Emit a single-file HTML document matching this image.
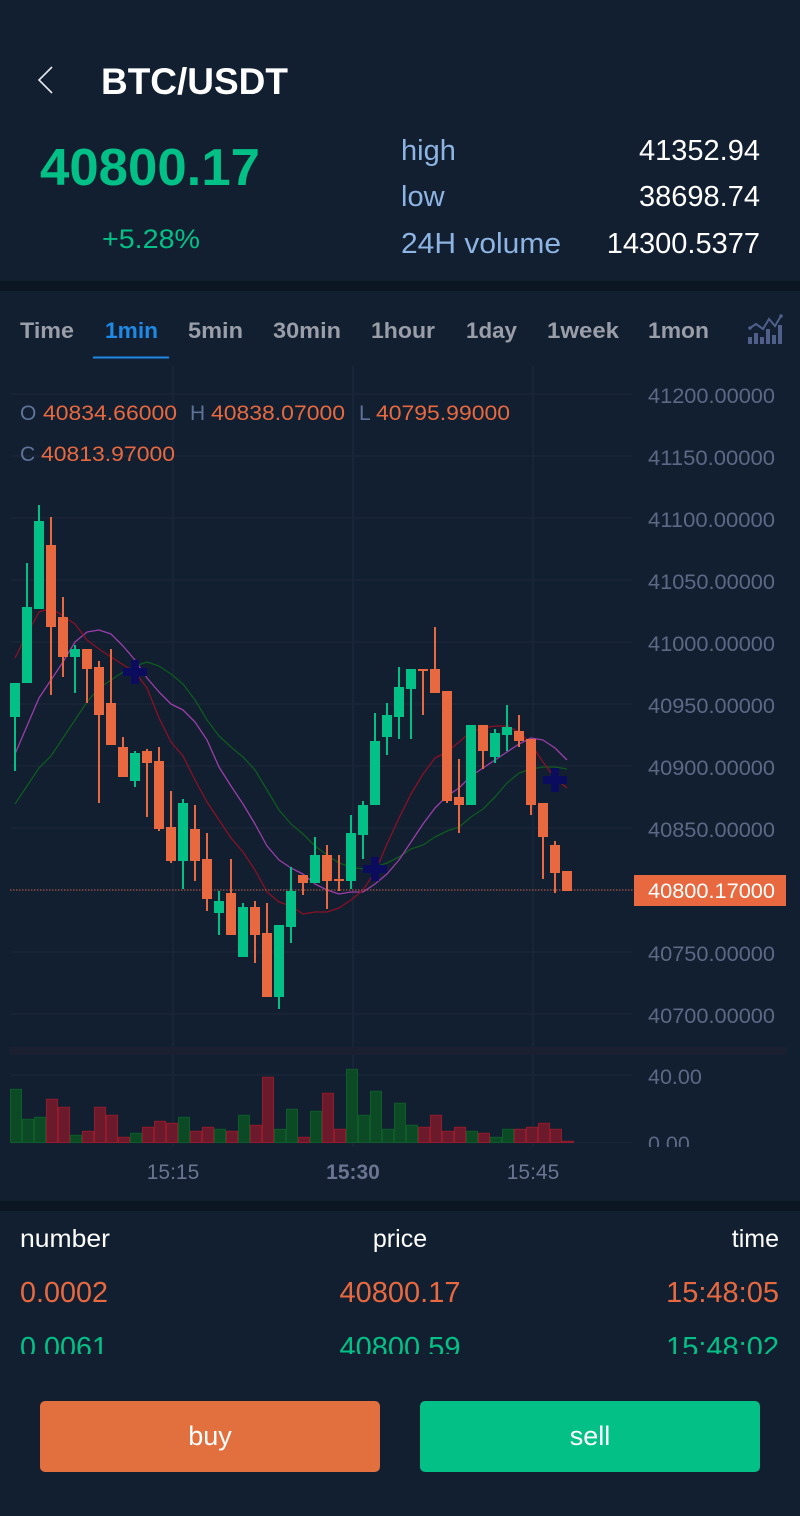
<!DOCTYPE html>
<html><head><meta charset="utf-8"><style>
html,body{margin:0;padding:0;background:#111f30;}
svg{display:block;}
text{font-family:"Liberation Sans",Arial,sans-serif;}
</style></head><body>
<svg width="800" height="1516" viewBox="0 0 800 1516" xmlns="http://www.w3.org/2000/svg">
<defs>
<clipPath id="cv"><rect x="0" y="0" width="800" height="1147"/></clipPath>
<clipPath id="cl"><rect x="0" y="1212" width="800" height="142"/></clipPath>
</defs>
<rect x="0" y="0" width="800" height="1516" fill="#111f30"/>
<!-- header -->
<polyline points="52,67 39,80 52,93" fill="none" stroke="#e6e8ee" stroke-width="1.6"/>
<text x="101" y="94" font-size="37" font-weight="bold" fill="#ffffff" textLength="187" lengthAdjust="spacingAndGlyphs">BTC/USDT</text>
<text x="40" y="185" font-size="52" font-weight="bold" fill="#03c087" textLength="220" lengthAdjust="spacingAndGlyphs">40800.17</text>
<text x="102" y="248" font-size="27" fill="#03c087" textLength="98" lengthAdjust="spacingAndGlyphs">+5.28%</text>
<text x="401" y="160" font-size="29" fill="#8db4e2">high</text>
<text x="401" y="206" font-size="29" fill="#8db4e2">low</text>
<text x="401" y="253" font-size="29" fill="#8db4e2" textLength="160" lengthAdjust="spacingAndGlyphs">24H volume</text>
<text x="760" y="160" font-size="29" fill="#ffffff" text-anchor="end">41352.94</text>
<text x="760" y="206" font-size="29" fill="#ffffff" text-anchor="end">38698.74</text>
<text x="760" y="253" font-size="29" fill="#ffffff" text-anchor="end">14300.5377</text>
<rect x="0" y="281" width="800" height="10" fill="#0c1623"/>
<!-- tabs -->
<g font-size="22" font-weight="bold" fill="#9a9ea8">
<text x="20" y="338" textLength="54" lengthAdjust="spacingAndGlyphs">Time</text>
<text x="105" y="338" fill="#1e8ae6" textLength="53" lengthAdjust="spacingAndGlyphs">1min</text>
<text x="188" y="338" textLength="55" lengthAdjust="spacingAndGlyphs">5min</text>
<text x="273" y="338" textLength="68" lengthAdjust="spacingAndGlyphs">30min</text>
<text x="371" y="338" textLength="64" lengthAdjust="spacingAndGlyphs">1hour</text>
<text x="466" y="338" textLength="51" lengthAdjust="spacingAndGlyphs">1day</text>
<text x="547" y="338" textLength="72" lengthAdjust="spacingAndGlyphs">1week</text>
<text x="648" y="338" textLength="61" lengthAdjust="spacingAndGlyphs">1mon</text>
</g>
<rect x="93" y="356.5" width="76" height="2" fill="#1e8ae6"/>
<g fill="#4f5f8a">
<rect x="748" y="337" width="4" height="7"/><rect x="754" y="333" width="4" height="11"/><rect x="760" y="337" width="4" height="7"/><rect x="766" y="329" width="4" height="15"/><rect x="772" y="335" width="4" height="9"/><rect x="778" y="325" width="4" height="19"/>
</g>
<polyline points="750,328 756,324 763,329 769,319 775,326 781,316" fill="none" stroke="#4f5f8a" stroke-width="2"/>
<circle cx="750" cy="328" r="1.8" fill="#4f5f8a"/><circle cx="781" cy="316" r="1.8" fill="#4f5f8a"/>

<!-- chart -->
<g clip-path="url(#cv)">
<g stroke="#1b2539" stroke-width="1.6">
<line x1="11" y1="394" x2="632" y2="394"/><line x1="11" y1="456" x2="632" y2="456"/><line x1="11" y1="518" x2="632" y2="518"/><line x1="11" y1="580" x2="632" y2="580"/><line x1="11" y1="642" x2="632" y2="642"/><line x1="11" y1="704" x2="632" y2="704"/><line x1="11" y1="766" x2="632" y2="766"/><line x1="11" y1="828" x2="632" y2="828"/><line x1="11" y1="952" x2="632" y2="952"/><line x1="11" y1="1014" x2="632" y2="1014"/>
<line x1="11" y1="1075" x2="632" y2="1075"/><line x1="11" y1="1142.5" x2="632" y2="1142.5"/>
<line x1="173" y1="366" x2="173" y2="1147"/><line x1="353" y1="366" x2="353" y2="1147"/><line x1="533" y1="366" x2="533" y2="1147"/>
</g>
<rect x="10" y="1047" width="776" height="8" fill="#1b2030"/>
<!-- OHLC -->
<g font-size="21">
<text x="20" y="420" fill="#5f7398">O</text>
<text x="43" y="420" fill="#e8693f" textLength="134" lengthAdjust="spacingAndGlyphs">40834.66000</text>
<text x="190" y="420" fill="#5f7398">H</text>
<text x="211" y="420" fill="#e8693f" textLength="134" lengthAdjust="spacingAndGlyphs">40838.07000</text>
<text x="359" y="420" fill="#5f7398">L</text>
<text x="376" y="420" fill="#e8693f" textLength="134" lengthAdjust="spacingAndGlyphs">40795.99000</text>
<text x="20" y="461" fill="#5f7398">C</text>
<text x="41" y="461" fill="#e8693f" textLength="134" lengthAdjust="spacingAndGlyphs">40813.97000</text>
</g>
<!-- y labels -->
<g font-size="21.5" fill="#5d6885">
<text x="648" y="403" textLength="127" lengthAdjust="spacingAndGlyphs">41200.00000</text>
<text x="648" y="465" textLength="127" lengthAdjust="spacingAndGlyphs">41150.00000</text>
<text x="648" y="527" textLength="127" lengthAdjust="spacingAndGlyphs">41100.00000</text>
<text x="648" y="589" textLength="127" lengthAdjust="spacingAndGlyphs">41050.00000</text>
<text x="648" y="651" textLength="127" lengthAdjust="spacingAndGlyphs">41000.00000</text>
<text x="648" y="713" textLength="127" lengthAdjust="spacingAndGlyphs">40950.00000</text>
<text x="648" y="775" textLength="127" lengthAdjust="spacingAndGlyphs">40900.00000</text>
<text x="648" y="837" textLength="127" lengthAdjust="spacingAndGlyphs">40850.00000</text>
<text x="648" y="961" textLength="127" lengthAdjust="spacingAndGlyphs">40750.00000</text>
<text x="648" y="1023" textLength="127" lengthAdjust="spacingAndGlyphs">40700.00000</text>
<text x="648" y="1084">40.00</text>
<text x="648" y="1151">0.00</text>
</g>
<!-- MA lines -->
<g fill="none" stroke-width="1.3" stroke-linejoin="round">
<polyline stroke="#0f5a1f" points="15,804 27,786 39,768 51,756 63,738 75,720 87,702 99,688 111,680 123,672 135,666 147,662 159,666 171,674 183,684 195,700 207,720 219,736 231,747 243,757 255,770 267,790 279,810 291,824 303,834 315,846 327,855 339,863 351,867 363,869 375,867 387,863 399,857 411,849 423,845 435,837 447,831 459,827 471,817 483,809 495,797 507,783 519,773 531,769 543,767 555,767 567,769"/>
<polyline stroke="#9c3ea8" points="15,754 27,726 39,698 51,680 63,662 75,642 87,632 99,630 111,634 123,646 135,660 147,678 159,692 171,704 183,710 195,722 207,740 219,767 231,786 243,804 255,824 267,846 279,860 291,868 303,874 315,884 327,890 339,894 351,892 363,892 375,884 387,874 399,860 411,842 423,824 435,808 447,796 459,788 471,776 483,768 495,760 507,752 519,744 531,738 543,740 555,748 567,760"/>
<polyline stroke="#8b1026" points="15,658 27,634 39,612 45,610 57,612 75,624 87,640 99,649 111,657 125,666 135,672 147,688 159,718 171,742 183,756 195,780 207,802 219,820 231,838 243,852 255,870 267,892 279,902 291,906 303,914 315,912 327,912 339,908 351,900 363,890 375,872 387,844 399,818 411,794 423,774 435,758 447,752 459,742 471,732 483,728 495,726 507,726 519,732 531,744 543,762 555,778 567,788"/>
</g>
<!-- price line -->
<line x1="10" y1="890" x2="634" y2="890" stroke="#c0604a" stroke-opacity="0.7" stroke-width="1.5" stroke-dasharray="1.5,1.5"/>
<!-- wicks -->
<path stroke="#03c087" stroke-width="2" fill="none" d="M15 683V771M27 563V683M39 505V609M75 645V693M135 751V787M183 799V889M219 891V935M243 903V957M279 925V1009M291 867V943M315 837V883M351 815V889M363 801V859M375 713V805M387 703V755M399 667V739M411 669V739M471 725V805M495 729V763M507 705V751"/>
<path stroke="#e8693f" stroke-width="2" fill="none" d="M51 517V695M63 597V677M87 649V703M99 661V803M111 649V745M123 737V777M147 749V817M159 747V831M171 791V863M195 805V881M207 833V911M231 859V935M255 901V963M267 903V997M303 875V895M327 845V909M339 855V891M423 669V715M435 627V693M447 691V803M459 759V833M483 725V769M519 715V747M531 739V815M543 803V879M555 841V893M567 871V891"/>
<g fill="#03c087">
<rect x="10" y="683" width="10" height="34"/><rect x="22" y="607" width="10" height="76"/><rect x="34" y="521" width="10" height="88"/><rect x="70" y="649" width="10" height="8"/><rect x="130" y="753" width="10" height="28"/><rect x="178" y="803" width="10" height="58"/><rect x="214" y="901" width="10" height="12"/><rect x="238" y="907" width="10" height="50"/><rect x="274" y="925" width="10" height="72"/><rect x="286" y="891" width="10" height="36"/><rect x="310" y="855" width="10" height="28"/><rect x="346" y="833" width="10" height="48"/><rect x="358" y="805" width="10" height="30"/><rect x="370" y="741" width="10" height="64"/><rect x="382" y="715" width="10" height="22"/><rect x="394" y="687" width="10" height="30"/><rect x="406" y="669" width="10" height="20"/><rect x="466" y="725" width="10" height="80"/><rect x="490" y="733" width="10" height="24"/><rect x="502" y="727" width="10" height="8"/>
</g>
<g fill="#e8693f">
<rect x="46" y="545" width="10" height="82"/><rect x="58" y="617" width="10" height="40"/><rect x="82" y="649" width="10" height="20"/><rect x="94" y="667" width="10" height="48"/><rect x="106" y="703" width="10" height="42"/><rect x="118" y="747" width="10" height="30"/><rect x="142" y="751" width="10" height="12"/><rect x="154" y="761" width="10" height="68"/><rect x="166" y="827" width="10" height="34"/><rect x="190" y="829" width="10" height="32"/><rect x="202" y="859" width="10" height="40"/><rect x="226" y="893" width="10" height="42"/><rect x="250" y="907" width="10" height="28"/><rect x="262" y="933" width="10" height="64"/><rect x="298" y="875" width="10" height="8"/><rect x="322" y="855" width="10" height="26"/><rect x="334" y="879" width="10" height="2"/><rect x="418" y="669" width="10" height="2"/><rect x="430" y="669" width="10" height="24"/><rect x="442" y="691" width="10" height="110"/><rect x="454" y="797" width="10" height="8"/><rect x="478" y="725" width="10" height="26"/><rect x="514" y="731" width="10" height="10"/><rect x="526" y="739" width="10" height="66"/><rect x="538" y="803" width="10" height="34"/><rect x="550" y="845" width="10" height="28"/><rect x="562" y="871" width="10" height="20"/>
</g>
<!-- crosses -->
<g fill="#0b0c5e">
<rect x="123" y="668" width="24" height="8"/><rect x="131" y="660" width="8" height="24"/>
<rect x="363" y="865" width="24" height="8"/><rect x="371" y="857" width="8" height="24"/>
<rect x="543" y="776" width="24" height="8"/><rect x="551" y="768" width="8" height="24"/>
</g>
<!-- price tag -->
<line x1="634" y1="890" x2="640" y2="890" stroke="#e8c0b0" stroke-width="1.2"/>
<rect x="634" y="875" width="152" height="31" fill="#e8693f"/>
<text x="648" y="898" font-size="21.5" fill="#ffffff" textLength="127" lengthAdjust="spacingAndGlyphs">40800.17000</text>
<!-- volume -->
<g stroke-width="1">
<g fill="#0c4a25" stroke="#0f5c2a">
<rect x="10.5" y="1089.3" width="11" height="53.2"/><rect x="22.5" y="1119.3" width="11" height="23.2"/><rect x="34.5" y="1117.3" width="11" height="25.2"/><rect x="70.5" y="1135.3" width="11" height="7.2"/><rect x="130.5" y="1133.3" width="11" height="9.2"/><rect x="178.5" y="1117.3" width="11" height="25.2"/><rect x="214.5" y="1129.3" width="11" height="13.2"/><rect x="238.5" y="1115.3" width="11" height="27.2"/><rect x="274.5" y="1129.3" width="11" height="13.2"/><rect x="286.5" y="1109.3" width="11" height="33.2"/><rect x="310.5" y="1111.3" width="11" height="31.2"/><rect x="346.5" y="1069.3" width="11" height="73.2"/><rect x="358.5" y="1115.3" width="11" height="27.2"/><rect x="370.5" y="1091.3" width="11" height="51.2"/><rect x="382.5" y="1129.3" width="11" height="13.2"/><rect x="394.5" y="1103.3" width="11" height="39.2"/><rect x="406.5" y="1125.3" width="11" height="17.2"/><rect x="466.5" y="1131.3" width="11" height="11.2"/><rect x="490.5" y="1137.3" width="11" height="5.2"/><rect x="502.5" y="1129.3" width="11" height="13.2"/>
</g>
<g fill="#6a1a2a" stroke="#931b2c">
<rect x="46.5" y="1099.3" width="11" height="43.2"/><rect x="58.5" y="1107.3" width="11" height="35.2"/><rect x="82.5" y="1131.3" width="11" height="11.2"/><rect x="94.5" y="1107.3" width="11" height="35.2"/><rect x="106.5" y="1115.3" width="11" height="27.2"/><rect x="118.5" y="1137.3" width="11" height="5.2"/><rect x="142.5" y="1127.3" width="11" height="15.2"/><rect x="154.5" y="1121.3" width="11" height="21.2"/><rect x="166.5" y="1123.3" width="11" height="19.2"/><rect x="190.5" y="1131.3" width="11" height="11.2"/><rect x="202.5" y="1127.3" width="11" height="15.2"/><rect x="226.5" y="1131.3" width="11" height="11.2"/><rect x="250.5" y="1125.3" width="11" height="17.2"/><rect x="262.5" y="1077.3" width="11" height="65.2"/><rect x="298.5" y="1137.3" width="11" height="5.2"/><rect x="322.5" y="1093.3" width="11" height="49.2"/><rect x="334.5" y="1129.3" width="11" height="13.2"/><rect x="418.5" y="1127.3" width="11" height="15.2"/><rect x="430.5" y="1115.3" width="11" height="27.2"/><rect x="442.5" y="1131.3" width="11" height="11.2"/><rect x="454.5" y="1127.3" width="11" height="15.2"/><rect x="478.5" y="1133.3" width="11" height="9.2"/><rect x="514.5" y="1129.3" width="11" height="13.2"/><rect x="526.5" y="1127.3" width="11" height="15.2"/><rect x="538.5" y="1123.3" width="11" height="19.2"/><rect x="550.5" y="1129.3" width="11" height="13.2"/><rect x="562.5" y="1141.3" width="11" height="1.2"/>
</g>
</g>
</g>
<!-- x axis labels -->
<g font-size="21" fill="#6b7490" text-anchor="middle">
<text x="173" y="1179">15:15</text>
<text x="353" y="1179" font-weight="bold">15:30</text>
<text x="533" y="1179">15:45</text>
</g>
<rect x="0" y="1201" width="800" height="10" fill="#0c1623"/>
<!-- trades -->
<g font-size="25" fill="#ffffff">
<text x="20" y="1247" textLength="90" lengthAdjust="spacingAndGlyphs">number</text>
<text x="400" y="1247" text-anchor="middle">price</text>
<text x="779" y="1247" text-anchor="end">time</text>
</g>
<g font-size="29" fill="#e8693f">
<text x="20" y="1302" textLength="88" lengthAdjust="spacingAndGlyphs">0.0002</text>
<text x="400" y="1302" text-anchor="middle">40800.17</text>
<text x="779" y="1302" text-anchor="end">15:48:05</text>
</g>
<g font-size="29" fill="#03c087" clip-path="url(#cl)">
<text x="20" y="1357" textLength="88" lengthAdjust="spacingAndGlyphs">0.0061</text>
<text x="400" y="1357" text-anchor="middle">40800.59</text>
<text x="779" y="1357" text-anchor="end">15:48:02</text>
</g>
<!-- buttons -->
<rect x="40" y="1401" width="340" height="71" rx="5" fill="#e2703f"/>
<rect x="420" y="1401" width="340" height="71" rx="5" fill="#03c087"/>
<text x="210" y="1445" font-size="27" fill="#ffffff" text-anchor="middle">buy</text>
<text x="590" y="1445" font-size="27" fill="#ffffff" text-anchor="middle">sell</text>
</svg>
</body></html>
